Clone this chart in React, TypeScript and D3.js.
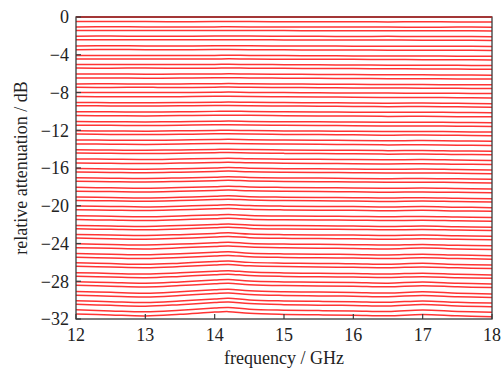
import React from 'react';
import * as d3 from 'd3';

// frequency points (GHz) where each attenuation state was sampled
const freqs = [12, 12.5, 13, 13.5, 14, 14.2, 14.5, 15, 15.5, 16, 16.5, 17, 17.5, 18];

// nominal attenuation states (dB), 0.5 dB step
const states = [
  0, -0.5, -1, -1.5, -2, -2.5, -3, -3.5, -4, -4.5, -5, -5.5, -6, -6.5, -7, -7.5,
  -8, -8.5, -9, -9.5, -10, -10.5, -11, -11.5, -12, -12.5, -13, -13.5, -14, -14.5, -15, -15.5,
  -16, -16.5, -17, -17.5, -18, -18.5, -19, -19.5, -20, -20.5, -21, -21.5, -22, -22.5, -23, -23.5,
  -24, -24.5, -25, -25.5, -26, -26.5, -27, -27.5, -28, -28.5, -29, -29.5, -30, -30.5, -31, -31.5,
];

// measured deviation from nominal state (dB) at each frequency point
const deviations = [
  [0, 0, 0, 0, 0, 0, 0, 0, 0, 0, 0, 0, 0, 0],
  [.02, .01, .02, 0, .01, .02, .01, 0, -.01, 0, -.02, -.01, -.02, -.03],
  [-.05, -.04, -.05, -.06, -.05, -.04, -.05, -.06, -.07, -.06, -.07, -.08, -.07, -.08],
  [.08, .07, .08, .06, .07, .08, .07, .06, .05, .04, .05, .03, .04, .02],
  [-.03, -.02, -.04, -.03, -.02, -.01, -.02, -.04, -.05, -.06, -.05, -.07, -.06, -.08],
  [.1, .09, .1, .08, .09, .1, .09, .07, .06, .05, .06, .04, .03, .02],
  [-.06, -.05, -.06, -.07, -.05, -.04, -.05, -.07, -.08, -.09, -.1, -.11, -.1, -.12],
  [.04, .05, .04, .03, .05, .06, .04, .02, .01, 0, -.01, -.02, -.03, -.04],
  [-.08, -.07, -.09, -.08, -.07, -.05, -.07, -.09, -.1, -.12, -.13, -.14, -.15, -.16],
  [.06, .05, .06, .04, .05, .07, .05, .03, .02, .01, -.01, -.02, -.03, -.05],
  [-.02, -.03, -.02, -.04, -.03, -.01, -.03, -.05, -.07, -.08, -.1, -.11, -.12, -.14],
  [.09, .08, .09, .07, .08, .1, .08, .06, .04, .03, .01, 0, -.02, -.03],
  [-.05, -.04, -.06, -.05, -.04, -.02, -.04, -.06, -.08, -.1, -.12, -.13, -.15, -.16],
  [.03, .04, .02, .03, .05, .07, .04, .02, 0, -.02, -.03, -.05, -.06, -.08],
  [-.09, -.08, -.1, -.09, -.07, -.05, -.08, -.1, -.12, -.13, -.15, -.16, -.18, -.19],
  [.05, .04, .05, .03, .06, .08, .05, .03, .01, -.01, -.03, -.04, -.06, -.07],
  [0, .01, -.01, 0, .02, .04, .01, -.01, -.03, -.05, -.06, -.08, -.09, -.1],
  [.07, .05, .04, .06, .09, .1, .08, .04, .02, 0, -.03, -.02, -.05, -.08],
  [-.06, -.08, -.09, -.06, -.03, -.01, -.04, -.07, -.09, -.1, -.13, -.12, -.15, -.18],
  [.1, .08, .07, .09, .12, .13, .1, .07, .05, .02, 0, .01, -.02, -.05],
  [-.03, -.05, -.07, -.04, 0, .02, -.01, -.05, -.06, -.08, -.1, -.09, -.12, -.15],
  [.06, .04, .02, .05, .09, .1, .08, .04, .02, 0, -.03, -.02, -.06, -.08],
  [-.08, -.1, -.12, -.09, -.05, -.03, -.06, -.1, -.11, -.13, -.16, -.14, -.18, -.2],
  [.04, .02, 0, .03, .08, .09, .06, .02, 0, -.02, -.05, -.04, -.07, -.1],
  [-.05, -.08, -.1, -.06, -.02, 0, -.03, -.07, -.09, -.11, -.14, -.12, -.16, -.19],
  [.09, .06, .04, .07, .12, .13, .1, .06, .04, .01, -.02, 0, -.04, -.07],
  [-.02, -.05, -.07, -.03, .02, .04, 0, -.04, -.06, -.08, -.11, -.09, -.13, -.16],
  [.05, .02, 0, .04, .09, .1, .07, .03, .01, -.02, -.05, -.03, -.08, -.11],
  [-.07, -.1, -.12, -.08, -.03, -.01, -.05, -.09, -.11, -.13, -.16, -.14, -.19, -.22],
  [.08, .05, .03, .07, .12, .14, .1, .05, .03, 0, -.03, -.01, -.06, -.09],
  [-.04, -.07, -.1, -.05, .01, .03, -.02, -.06, -.08, -.1, -.13, -.11, -.16, -.2],
  [.03, 0, -.03, .02, .08, .1, .05, .01, -.01, -.04, -.07, -.05, -.1, -.13],
  [-.06, -.1, -.13, -.07, 0, .05, -.02, -.07, -.09, -.11, -.14, -.1, -.16, -.2],
  [.07, .03, 0, .06, .14, .18, .1, .05, .03, 0, -.04, -.02, -.06, -.1],
  [-.03, -.08, -.11, -.05, .03, .08, 0, -.05, -.07, -.1, -.13, -.1, -.15, -.19],
  [.1, .05, .02, .08, .16, .2, .13, .07, .04, .02, -.02, 0, -.04, -.08],
  [-.05, -.1, -.14, -.07, .02, .07, -.01, -.06, -.09, -.12, -.15, -.12, -.17, -.22],
  [.04, 0, -.04, .03, .12, .16, .08, .03, .01, -.02, -.06, -.03, -.08, -.12],
  [-.08, -.13, -.17, -.1, 0, .05, -.04, -.09, -.12, -.14, -.18, -.14, -.2, -.25],
  [.06, .02, -.02, .05, .15, .19, .11, .05, .02, 0, -.04, 0, -.06, -.1],
  [-.02, -.07, -.12, -.04, .06, .11, .02, -.04, -.07, -.09, -.13, -.09, -.15, -.2],
  [.08, .03, -.01, .07, .17, .21, .12, .06, .03, .01, -.03, .01, -.05, -.09],
  [-.06, -.12, -.16, -.08, .03, .08, -.02, -.08, -.1, -.13, -.17, -.13, -.19, -.24],
  [.03, -.02, -.07, .02, .13, .18, .08, .02, -.01, -.03, -.07, -.03, -.09, -.14],
  [-.09, -.14, -.19, -.1, .01, .07, -.04, -.1, -.13, -.15, -.2, -.15, -.22, -.27],
  [.05, 0, -.05, .04, .16, .21, .1, .04, .01, -.01, -.05, -.01, -.07, -.12],
  [-.04, -.1, -.15, -.06, .07, .13, .01, -.06, -.09, -.11, -.16, -.1, -.18, -.23],
  [.07, .01, -.04, .05, .18, .23, .12, .05, .02, 0, -.04, .01, -.06, -.11],
  [-.03, -.1, -.16, -.06, .08, .14, .01, -.06, -.09, -.12, -.17, -.1, -.19, -.25],
  [.06, -.01, -.07, .04, .19, .24, .12, .04, 0, -.02, -.07, .01, -.08, -.14],
  [-.07, -.14, -.2, -.09, .06, .12, -.02, -.1, -.13, -.16, -.21, -.13, -.23, -.29],
  [.04, -.03, -.09, .02, .18, .24, .1, .02, -.02, -.04, -.09, -.01, -.1, -.16],
  [-.05, -.13, -.2, -.08, .09, .15, 0, -.08, -.12, -.14, -.2, -.1, -.22, -.28],
  [.08, 0, -.07, .05, .22, .27, .14, .05, .01, -.02, -.07, .02, -.08, -.15],
  [-.09, -.17, -.24, -.11, .06, .12, -.03, -.12, -.16, -.18, -.24, -.14, -.26, -.33],
  [.03, -.05, -.12, .01, .19, .25, .1, .01, -.03, -.06, -.11, -.01, -.12, -.19],
  [-.04, -.13, -.21, -.07, .12, .18, .02, -.07, -.11, -.14, -.2, -.08, -.21, -.28],
  [.07, -.02, -.1, .04, .23, .29, .14, .04, 0, -.03, -.09, .03, -.09, -.17],
  [-.08, -.17, -.26, -.11, .09, .15, -.01, -.11, -.15, -.18, -.24, -.12, -.26, -.34],
  [.02, -.08, -.16, -.01, .2, .26, .1, 0, -.05, -.08, -.14, -.01, -.14, -.22],
  [-.06, -.16, -.25, -.09, .13, .19, .02, -.08, -.13, -.16, -.23, -.08, -.23, -.31],
  [.05, -.05, -.14, .02, .24, .3, .13, .02, -.03, -.06, -.12, .03, -.12, -.2],
  [-.03, -.14, -.24, -.07, .16, .22, .04, -.06, -.11, -.14, -.21, -.05, -.2, -.29],
  [.04, -.07, -.17, 0, .23, .28, .1, -.01, -.06, -.09, -.16, -.02, -.16, -.25],
];

const xTicks = [12, 13, 14, 15, 16, 17, 18];
const yTicks = [0, -4, -8, -12, -16, -20, -24, -28, -32];

const width = 504;
const height = 371;
const margin = { top: 17, right: 12, bottom: 52, left: 76 };
const font = "'Liberation Serif', 'DejaVu Serif', serif";
const textStyle = { fontFamily: font, fontSize: 18 };

export default function App() {
  const x = d3.scaleLinear().domain([12, 18]).range([margin.left, width - margin.right]);
  const y = d3.scaleLinear().domain([-32, 0]).range([height - margin.bottom, margin.top]);

  const line = d3.line<number>()
    .x((_, i) => x(freqs[i]))
    .y(d => y(d))
    .curve(d3.curveCatmullRom);

  const series = states.map((s, k) => deviations[k].map(d => s + d));

  const x0 = margin.left, x1 = width - margin.right;
  const y0 = height - margin.bottom, y1 = margin.top;
  const axisColor = '#3a3a3a';

  return (
    <svg width={width} height={height} style={{ position: 'absolute', left: 0, top: 0, background: '#fff' }}>
      <defs>
        <clipPath id="plot">
          <rect x={x0} y={y1 - 1} width={x1 - x0} height={y0 - y1 + 1} />
        </clipPath>
      </defs>
      <g clipPath="url(#plot)">
        {series.map((d, i) => (
          <path key={i} d={line(d) || ''} fill="none" stroke="#ff3333" strokeWidth={1.5} />
        ))}
      </g>

      {/* frame */}
      <rect x={x0} y={y1} width={x1 - x0} height={y0 - y1} fill="none" stroke={axisColor} strokeWidth={1.3} />
      <line x1={x0} x2={x1} y1={y1} y2={y1} stroke="#b03030" strokeWidth={1.5} />

      {/* x ticks */}
      {xTicks.map(t => (
        <g key={t}>
          <line x1={x(t)} x2={x(t)} y1={y0} y2={y0 - 5} stroke={axisColor} strokeWidth={1.2} />
          <text x={x(t)} y={y0 + 22} textAnchor="middle" style={textStyle} fill="#222">{t}</text>
        </g>
      ))}

      {/* y ticks */}
      {yTicks.map(t => (
        <g key={t}>
          <line x1={x0} x2={x0 + 5} y1={y(t)} y2={y(t)} stroke={axisColor} strokeWidth={1.2} />
          <text x={x0 - 7} y={y(t)} dy="0.35em" textAnchor="end" style={textStyle} fill="#222">
            {t === 0 ? '0' : '\u2212' + Math.abs(t)}
          </text>
        </g>
      ))}

      <text x={(x0 + x1) / 2} y={height - 7} textAnchor="middle" style={textStyle} fill="#222">
        frequency / GHz
      </text>
      <text
        transform={`translate(27,${(y0 + y1) / 2}) rotate(-90)`}
        textAnchor="middle"
        style={textStyle}
        fill="#222"
      >
        relative attenuation / dB
      </text>
    </svg>
  );
}
